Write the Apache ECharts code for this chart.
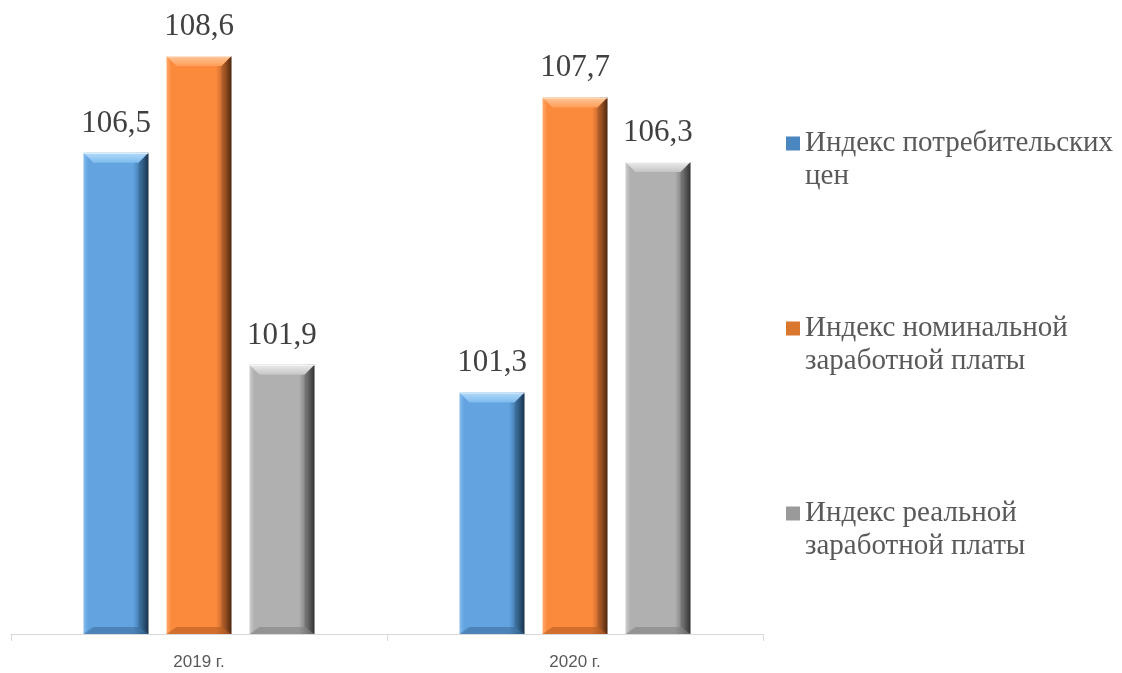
<!DOCTYPE html>
<html>
<head>
<meta charset="utf-8">
<script src="https://cdn.jsdelivr.net/npm/echarts@6/dist/echarts.min.js"></script>
<style>
html,body{margin:0;padding:0;background:#fff;}
#chart{width:1122px;height:673px;}
</style>
</head>
<body>
<div id="chart"></div>
<script>
var categories = ['2019 г.', '2020 г.'];
var seriesNames = ['Индекс потребительских цен', 'Индекс номинальной заработной платы', 'Индекс реальной заработной платы'];
var legendLines = {
  'Индекс потребительских цен': 'Индекс потребительских\nцен',
  'Индекс номинальной заработной платы': 'Индекс номинальной\nзаработной платы',
  'Индекс реальной заработной платы': 'Индекс реальной\nзаработной платы'
};
var cpiValues = [106.5, 101.3];
var nominalWageValues = [108.6, 107.7];
var realWageValues = [101.9, 106.3];

var BAR_W = 65, BAR_GAP = 18, BEVEL = 10;

function barGrad(light, base, dark, darkest) {
  return new echarts.graphic.LinearGradient(0, 0, 1, 0, [
    {offset: 0, color: light},
    {offset: 0.07, color: base},
    {offset: 0.76, color: base},
    {offset: 0.89, color: dark},
    {offset: 1, color: darkest}
  ]);
}
var styles = [
  {fill: barGrad('#86bdee', '#62a3e0', '#3f75a6', '#1e3a55'), top: ['#b4dafa', '#7dbbee'], bottom: '#3a6a99', legend: '#4a86c0'},
  {fill: barGrad('#ffab6e', '#fb8a3c', '#b8612a', '#5a2e12'), top: ['#ffc79a', '#fe9d58'], bottom: '#b05a22', legend: '#d9772f'},
  {fill: barGrad('#cfcfcf', '#b0b0b0', '#7a7a7a', '#3a3a3a'), top: ['#ececec', '#c4c4c4'], bottom: '#7e7e7e', legend: '#9a9a9a'}
];
var dataSets = [cpiValues, nominalWageValues, realWageValues];

var series = [];
seriesNames.forEach(function (name, i) {
  series.push({
    name: name,
    type: 'bar',
    data: dataSets[i],
    barWidth: BAR_W,
    barGap: (BAR_GAP / BAR_W * 100).toFixed(2) + '%',
    itemStyle: {color: styles[i].fill},
    label: {
      show: true,
      position: 'top',
      distance: 14,
      fontFamily: 'Liberation Serif',
      fontSize: 31,
      color: '#404040',
      formatter: function (p) { return p.value.toFixed(1).replace('.', ','); }
    },
    z: 2
  });
});
// bevel decoration drawn on top of each bar via axis scales
seriesNames.forEach(function (name, i) {
  series.push({
    type: 'custom',
    data: dataSets[i].map(function (v, j) { return [j, v]; }),
    z: 3,
    silent: true,
    renderItem: function (params, api) {
      var top = api.coord([api.value(0), api.value(1)]);
      var base = api.coord([api.value(0), 96.06]);
      var total = 3 * BAR_W + 2 * BAR_GAP;
      var x0 = top[0] - total / 2 + i * (BAR_W + BAR_GAP);
      var x1 = x0 + BAR_W;
      var y0 = top[1], yb = base[1];
      var h = BEVEL;
      var st = styles[i];
      return {
        type: 'group',
        children: [
          {
            type: 'polygon',
            shape: {points: [[x0, y0], [x1, y0], [x1 - h, y0 + h], [x0 + h, y0 + h]]},
            style: {fill: new echarts.graphic.LinearGradient(0, 0, 0, 1, [
              {offset: 0, color: st.top[0]}, {offset: 1, color: st.top[1]}
            ])}
          },
          {
            type: 'polygon',
            shape: {points: [[x1, y0], [x1, yb], [x1 - h, yb - h * 0.7], [x1 - h, y0 + h]]},
            style: {fill: 'rgba(0,0,0,0.12)'}
          },
          {
            type: 'polygon',
            shape: {points: [[x0, yb], [x1, yb], [x1 - h, yb - h * 0.7], [x0 + h, yb - h * 0.7]]},
            style: {fill: st.bottom, opacity: 0.55}
          },
          {
            type: 'line',
            shape: {x1: x0, y1: y0 + 0.5, x2: x1, y2: y0 + 0.5},
            style: {stroke: 'rgba(255,255,255,0.6)', lineWidth: 1}
          }
        ]
      };
    }
  });
});

var chart = echarts.init(document.getElementById('chart'));
chart.setOption({
  animation: false,
  backgroundColor: '#fff',
  grid: {left: 11, right: 359, top: 10, bottom: 39, containLabel: false},
  legend: {
    orient: 'vertical',
    left: 786,
    top: 94,
    padding: 0,
    itemGap: 86,
    itemWidth: 14,
    itemHeight: 14,
    icon: 'rect',
    data: seriesNames.map(function (n, i) {
      return {name: n, itemStyle: {color: styles[i].legend}};
    }),
    formatter: function (n) { return '\n' + legendLines[n]; },
    textStyle: {
      fontFamily: 'Liberation Serif',
      fontSize: 29,
      lineHeight: 33,
      color: '#595959'
    }
  },
  xAxis: {
    type: 'category',
    data: categories,
    axisLine: {lineStyle: {color: '#d9d9d9', width: 1}},
    axisTick: {show: true, length: 7, lineStyle: {color: '#d9d9d9'}},
    axisLabel: {fontFamily: 'Liberation Sans', fontSize: 17, color: '#595959', margin: 20}
  },
  yAxis: {
    type: 'value',
    min: 96.06,
    max: 109.6,
    show: false,
    splitLine: {show: false}
  },
  series: series
});
</script>
</body>
</html>
